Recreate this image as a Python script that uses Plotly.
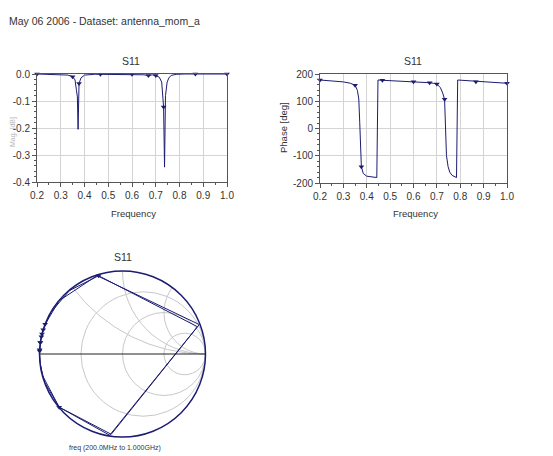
import numpy as np
import plotly.graph_objects as go

W, H = 553, 456
OFF = 8  # page body margin of the browser

# ---- data ----
freq_ghz = [0.20, 0.25, 0.30, 0.33, 0.35, 0.36, 0.366, 0.370, 0.373, 0.377, 0.385, 0.40,
            0.443, 0.448, 0.467, 0.52, 0.60, 0.65, 0.669, 0.685, 0.70, 0.715, 0.725,
            0.733, 0.737, 0.741, 0.748, 0.755, 0.765, 0.784, 0.789, 0.82, 0.867, 0.93, 1.00]
mag_db = [0.000, -0.001, -0.002, -0.004, -0.010, -0.022, -0.060, -0.085, -0.205, -0.035,
          -0.015, -0.004, -0.001, -0.001, -0.001, -0.001, -0.001, -0.003, -0.006, -0.003,
          -0.006, -0.012, -0.030, -0.122, -0.345, -0.080, -0.030, -0.015, -0.005, -0.001,
          -0.001, 0.000, 0.000, 0.000, 0.000]
phase_deg = [178, 175, 171, 166, 159, 140, 108, 21, -98, -140, -165, -175,
             -180, 178, 177, 175, 172, 170, 168, 166, 163, 150, 130,
             107, 20, -99, -140, -160, -172, -180, 178, 176, 172, 169, 166]
marker_freqs = [0.20, 0.35, 0.377, 0.467, 0.60, 0.669, 0.70, 0.733, 0.867, 1.00]

mag_ticks = [0.0, -0.1, -0.2, -0.3, -0.4]
mag_tick_text = ["0.0", "-0.1", "-0.2", "-0.3", "-0.4"]
phase_ticks = [200, 100, 0, -100, -200]
phase_tick_text = ["200", "100", "0", "-100", "-200"]
freq_ticks = [0.2, 0.3, 0.4, 0.5, 0.6, 0.7, 0.8, 0.9, 1.0]
freq_tick_text = ["0.2", "0.3", "0.4", "0.5", "0.6", "0.7", "0.8", "0.9", "1.0"]
smith_r_grid = [1/3, 1, 3]
smith_x_grid = [0.5, 1, 2]

header = "May 06 2006 - Dataset: antenna_mom_a"
smith_note = "freq (200.0MHz to 1.000GHz)"

# ---- derived ----
f = np.array(freq_ghz)
m = np.array(mag_db)
p = np.array(phase_deg)
idx = [int(np.argmin(np.abs(f - v))) for v in marker_freqs]
gamma = 10 ** (m / 20) * np.exp(1j * np.deg2rad(p))
z = (1 + gamma) / (1 - gamma)

NAVY = "#1c1c72"
FONT = "Liberation Sans, Arial, sans-serif"
TXT = "#333333"

def px(x):
    return (x - OFF) / W

def py(y):
    return 1 - (y - OFF) / H

fig = go.Figure()
fig.add_trace(go.Scatter(x=f, y=m, mode="lines", line=dict(color=NAVY, width=1),
                         xaxis="x", yaxis="y", showlegend=False, cliponaxis=False))
fig.add_trace(go.Scatter(x=f[idx], y=m[idx], mode="markers",
                         marker=dict(symbol="triangle-down", size=5, color=NAVY),
                         xaxis="x", yaxis="y", showlegend=False, cliponaxis=False))
fig.add_trace(go.Scatter(x=f, y=p, mode="lines", line=dict(color=NAVY, width=1),
                         xaxis="x2", yaxis="y2", showlegend=False, cliponaxis=False))
fig.add_trace(go.Scatter(x=f[idx], y=p[idx], mode="markers",
                         marker=dict(symbol="triangle-down", size=5, color=NAVY),
                         xaxis="x2", yaxis="y2", showlegend=False, cliponaxis=False))
fig.add_trace(go.Scattersmith(real=z.real, imag=z.imag, mode="lines",
                              line=dict(color=NAVY, width=1), showlegend=False))
fig.add_trace(go.Scattersmith(real=z.real[idx], imag=z.imag[idx], mode="markers",
                              marker=dict(symbol="triangle-down", size=5, color=NAVY),
                              showlegend=False))

axis_common = dict(showline=True, linecolor="#555555", linewidth=1, mirror=True,
                   showgrid=True, gridcolor="#d4d4d4", gridwidth=1, zeroline=False,
                   ticks="outside", ticklen=4, tickcolor="#555555", automargin=False,
                   tickfont=dict(family=FONT, size=10, color=TXT))

fig.update_layout(
    width=W, height=H, autosize=False,
    margin=dict(l=0, r=0, t=0, b=0, pad=0, autoexpand=False),
    paper_bgcolor="white", plot_bgcolor="white",
    font=dict(family=FONT, color=TXT),
    xaxis=dict(domain=[px(37), px(227)], range=[0.2, 1.0], tickvals=freq_ticks,
               ticktext=freq_tick_text, anchor="y",
               minor=dict(dtick=0.05, ticks="outside", ticklen=2, tickcolor="#555555",
                          showgrid=False), **axis_common),
    yaxis=dict(domain=[py(182), py(74)], range=[-0.4, 0.0], tickvals=mag_ticks,
               ticktext=mag_tick_text, anchor="x",
               minor=dict(dtick=0.02, ticks="outside", ticklen=2, tickcolor="#555555",
                          showgrid=False), **axis_common),
    xaxis2=dict(domain=[px(320), px(507)], range=[0.2, 1.0], tickvals=freq_ticks,
                ticktext=freq_tick_text, anchor="y2",
                minor=dict(dtick=0.05, ticks="outside", ticklen=2, tickcolor="#555555",
                           showgrid=False), **axis_common),
    yaxis2=dict(domain=[py(183), py(74)], range=[-200, 200], tickvals=phase_ticks,
                ticktext=phase_tick_text, anchor="x2",
                minor=dict(dtick=20, ticks="outside", ticklen=2, tickcolor="#555555",
                           showgrid=False), **axis_common),
    smith=dict(
        domain=dict(x=[px(39), px(206)], y=[py(437), py(271)]),
        bgcolor="white",
        realaxis=dict(tickvals=smith_r_grid, showticklabels=False, ticks="",
                      gridcolor="#c8c8c8", gridwidth=1, showline=True,
                      linecolor="#222222", linewidth=1),
        imaginaryaxis=dict(tickvals=smith_x_grid, showticklabels=False, ticks="",
                           gridcolor="#c8c8c8", gridwidth=1, showline=True,
                           linecolor=NAVY, linewidth=1.5),
    ),
)

ann = [
    dict(text=header, x=px(8), y=py(21), xanchor="left", size=10.5, color=TXT),
    dict(text="S11", x=px(131), y=py(61), size=10.5, color=TXT),
    dict(text="S11", x=px(413), y=py(61), size=10.5, color=TXT),
    dict(text="S11", x=px(123), y=py(257), size=10.5, color=TXT),
    dict(text="Frequency", x=px(133), y=py(213), size=9.5, color=TXT),
    dict(text="Frequency", x=px(415), y=py(213), size=9.5, color=TXT),
    dict(text="Phase [deg]", x=px(284), y=py(128), size=9.5, color=TXT, textangle=-90),
    dict(text="Mag. [dB]", x=px(13), y=py(132), size=7, color="#b8b8b8", textangle=-90),
    dict(text=smith_note, x=px(115), y=py(448), size=7, color=TXT),
]
for a in ann:
    fig.add_annotation(text=a["text"], x=a["x"], y=a["y"], xref="paper", yref="paper",
                       xanchor=a.get("xanchor", "center"), yanchor="middle",
                       showarrow=False, textangle=a.get("textangle", 0), borderpad=0,
                       font=dict(family=FONT, size=a["size"], color=a["color"]))

fig.write_html("out.html")
